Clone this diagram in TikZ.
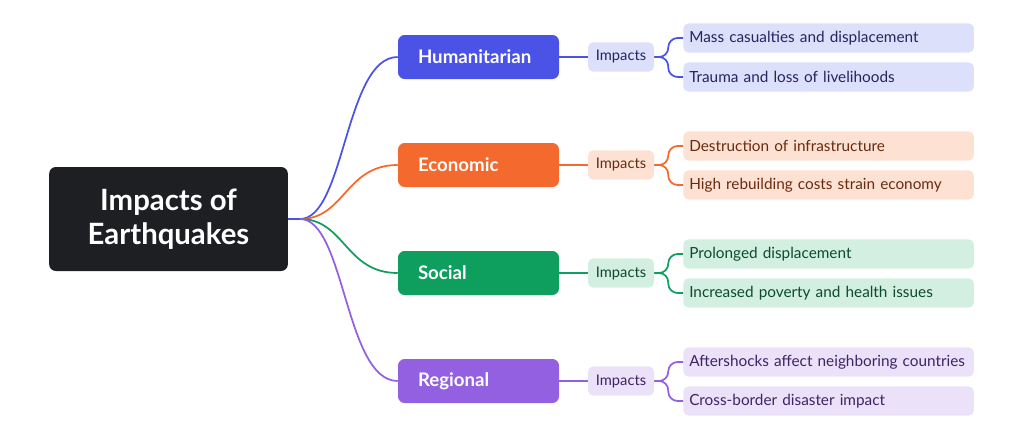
\documentclass[tikz,border=0pt]{standalone}
\usepackage{fontspec}
\setmainfont{Lato}
\begin{document}
\begin{tikzpicture}[x=0.75pt,y=-0.75pt,
  root/.style={fill=rootc,rounded corners=5pt,minimum width=179pt,minimum height=78pt,text=white,font=\fontsize{22}{25}\selectfont\bfseries,align=center,inner sep=0},
  br/.style={rounded corners=5pt,minimum height=33pt,text=white,font=\fontsize{14}{16}\selectfont\bfseries,inner ysep=0,inner xsep=15pt,text width=90.75pt,align=left},
  imp/.style={rounded corners=4pt,minimum width=49.5pt,minimum height=22pt,font=\fontsize{11}{13}\selectfont,inner sep=0},
  leaf/.style={rounded corners=4pt,minimum height=22pt,font=\fontsize{11.5}{13}\selectfont,inner xsep=4.5pt,inner ysep=0,text width=209pt,align=left,anchor=west},
  ln/.style={line width=1.3pt}]
\definecolor{rootc}{HTML}{1E1F22}
\definecolor{cA}{HTML}{4B53E6}\definecolor{lA}{HTML}{DDE0FB}\definecolor{tA}{HTML}{22265E}
\definecolor{cB}{HTML}{F4692D}\definecolor{lB}{HTML}{FDE2D4}\definecolor{tB}{HTML}{6A2A10}
\definecolor{cC}{HTML}{0E9E5E}\definecolor{lC}{HTML}{D2EFE1}\definecolor{tC}{HTML}{0D4A2E}
\definecolor{cD}{HTML}{9260E0}\definecolor{lD}{HTML}{EBE1F8}\definecolor{tD}{HTML}{3E2466}
\useasboundingbox (0,0) rectangle (1024,439);
\node[root] (root) at (168.5,219) {Impacts of\\Earthquakes};
\foreach \n/\lab/\y/\c/\l/\t/\a/\b in {
 A/Humanitarian/57/cA/lA/tA/Mass casualties and displacement/Trauma and loss of livelihoods,
 B/Economic/165/cB/lB/tB/Destruction of infrastructure/High rebuilding costs strain economy,
 C/Social/273/cC/lC/tC/Prolonged displacement/Increased poverty and health issues,
 D/Regional/381/cD/lD/tD/Aftershocks affect neighboring countries/Cross-border disaster impact}{
  \node[br,fill=\c] (b\n) at (478.5,\y) {\lab};
  \node[imp,fill=\l,text=\t] (i\n) at (621,\y) {Impacts};
  \node[leaf,fill=\l,text=\t] (x\n) at (683,\y-19) {\a};
  \node[leaf,fill=\l,text=\t] (y\n) at (683,\y+20) {\b};
  \coordinate (s\n) at (300,219);
  \draw[ln,draw=\c] (s\n) .. controls (345,219) and (345,\y) .. (b\n.west);
  \draw[ln,draw=\c] (b\n.east) -- (i\n.west);
  \draw[ln,draw=\c,rounded corners=7pt] (i\n.east) -- ++(14,0) |- (x\n.west);
  \draw[ln,draw=\c,rounded corners=7pt] (i\n.east) -- ++(14,0) |- (y\n.west);
}
\draw[ln,draw=cA] (root.east) -- (300,219);
\end{tikzpicture}
\end{document}
